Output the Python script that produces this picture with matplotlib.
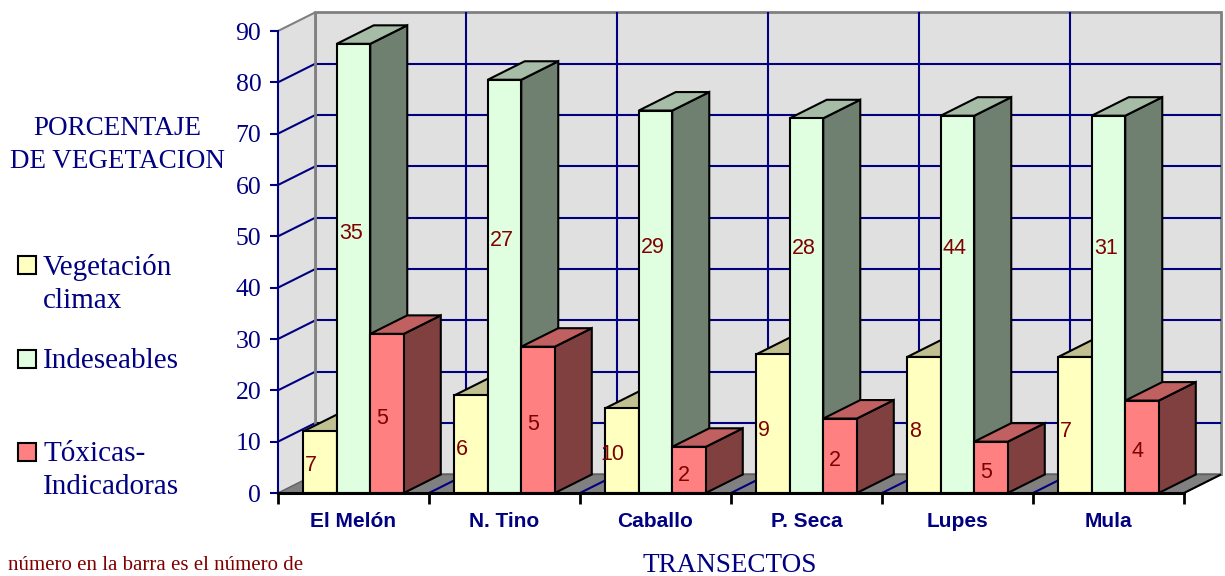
import matplotlib
matplotlib.use("Agg")
from matplotlib import pyplot as plt
from matplotlib.patches import Polygon, Rectangle
import numpy as np

# data
transectos = ['El Melón', 'N. Tino', 'Caballo', 'P. Seca', 'Lupes', 'Mula']
series_names = ['Vegetación\nclimax', 'Indeseables', 'Tóxicas-\nIndicadoras']

climax_pct = [12, 19, 16.5, 27, 26.5, 26.5]
indeseables_pct = [87.5, 80.5, 74.5, 73, 73.5, 73.5]
toxicas_pct = [31, 28.5, 9, 14.5, 10, 18]

climax_n = [7, 6, 10, 9, 8, 7]
indeseables_n = [35, 27, 29, 28, 44, 31]
toxicas_n = [5, 5, 2, 2, 5, 4]

y_ticks = list(range(0, 91, 10))

# colours: front, top, side
front_cols = ['#FFFFC0', '#E0FFE0', '#FF8080']
top_cols = ['#C0C090', '#A6BCA6', '#C06060']
side_cols = ['#909070', '#708070', '#804040']
NAVY = '#000080'
LABEL_RED = '#800000'
SERIF = 'Liberation Serif'
SANS = 'Liberation Sans'

W, H = 1225, 576
fig = plt.figure(figsize=(W / 100, H / 100), dpi=100)
ax = fig.add_axes([278 / W, (H - 493) / H, (1184 - 278) / W, (493 - 31) / H])
ax.set_xlim(0, len(transectos))
ax.set_ylim(0, 90)
ax.patch.set_visible(False)

# 3d depth offset in data units
DX = 37 / 151
DY = 18.5 / 5.133
n = len(transectos)
top = 90


def poly(pts, fc, ec='none', lw=0, z=1):
    p = Polygon(pts, closed=True, facecolor=fc, edgecolor=ec, linewidth=lw,
                zorder=z, clip_on=False, joinstyle='miter')
    ax.add_patch(p)


def line(xs, ys, c=NAVY, lw=1.5, z=1.5):
    ax.plot(xs, ys, color=c, lw=lw, zorder=z, clip_on=False, solid_capstyle='butt')


# walls and floor
poly([(DX, DY), (n + DX, DY), (n + DX, top + DY), (DX, top + DY)], '#E0E0E0', '#808080', 2)
poly([(0, 0), (DX, DY), (DX, top + DY), (0, top)], '#E0E0E0')
poly([(0, 0), (n, 0), (n + DX, DY), (DX, DY)], '#808080', '#606060', 1)

# gridlines
for v in y_ticks[1:-1]:
    line([DX, n + DX], [v + DY, v + DY])
    line([0, DX], [v, v + DY])
for i in range(1, n):
    line([i + DX, i + DX], [DY, top + DY])
    line([i, i + DX], [0, DY])
line([0, DX], [top, top + DY], c='#808080', lw=1.5)
line([DX, DX], [DY, top + DY], c='#808080', lw=2)
line([n, n + DX], [0, DY], c='black', lw=1.5, z=3)

# bars
series = [climax_pct, indeseables_pct, toxicas_pct]
counts = [climax_n, indeseables_n, toxicas_n]
bw = 0.222
gap = (1 - 3 * bw) / 2
lab_dx = [0.05, 0.093, 0.08]
for i in range(n):
    for k in range(3):
        v = series[k][i]
        x0 = i + gap + k * bw
        x1 = x0 + bw
        z = 2 + i * 0.1 + k * 0.01
        poly([(x1, 0), (x1 + DX, DY), (x1 + DX, v + DY), (x1, v)], side_cols[k], 'black', 1.5, z)
        poly([(x0, v), (x1, v), (x1 + DX, v + DY), (x0 + DX, v + DY)], top_cols[k], 'black', 1.5, z)
        poly([(x0, 0), (x1, 0), (x1, v), (x0, v)], front_cols[k], 'black', 1.5, z)
        if k == 0:
            ly = 0.45 * v
        elif k == 1:
            ly = 0.2 * v + 33
        else:
            ly = 0.5 * v - 1
        ax.text(x0 + lab_dx[k], ly, str(counts[k][i]), ha='center', va='center',
                color=LABEL_RED, fontsize=15.5, family=SANS, zorder=z + 0.005)

# axes
for s in ['top', 'right']:
    ax.spines[s].set_visible(False)
ax.spines['left'].set_color(NAVY)
ax.spines['left'].set_linewidth(1.5)
ax.spines['bottom'].set_color('black')
ax.spines['bottom'].set_linewidth(2.2)
ax.spines['bottom'].set_zorder(2.9)

ax.set_yticks(y_ticks)
ax.set_yticklabels([str(t) for t in y_ticks])
ax.tick_params(axis='y', colors=NAVY, length=6, width=1.5, pad=6, labelsize=18.5)
for lab in ax.get_yticklabels():
    lab.set_family(SERIF)

ax.set_xticks(np.arange(n + 1))
ax.set_xticklabels([])
ax.set_xticks(np.arange(n) + 0.5, minor=True)
ax.set_xticklabels(transectos, minor=True)
ax.tick_params(axis='x', which='major', colors='black', length=8, width=2, direction='out')
ax.tick_params(axis='x', which='minor', length=0, pad=14, labelsize=15, labelcolor=NAVY)
for lab in ax.get_xticklabels(minor=True):
    lab.set_family(SANS)
    lab.set_fontweight('bold')

# titles
fig.text(117.5 / W, 1 - 145 / H, 'PORCENTAJE\nDE VEGETACION', ha='center', va='center',
         color=NAVY, fontsize=19.5, family=SERIF, linespacing=1.42)
fig.text(730 / W, 1 - 553 / H, 'TRANSECTOS', ha='center', va='top',
         color=NAVY, fontsize=19.5, family=SERIF)
fig.text(8 / W, 1 - 556 / H, 'número en la barra es el número de', ha='left', va='top',
         color=LABEL_RED, fontsize=15, family=SERIF)

# legend
leg_y = [265, 359, 452]
for k in range(3):
    yc = leg_y[k]
    fig.patches.append(Rectangle((18 / W, 1 - (yc + 9) / H), 18 / W, 18 / H,
                                 transform=fig.transFigure, facecolor=front_cols[k],
                                 edgecolor='black', linewidth=1.5))
    fig.text(43 / W, 1 - (yc - 11) / H, series_names[k], ha='left', va='top',
             color=NAVY, fontsize=21, family=SERIF, linespacing=1.36)

fig.savefig('out.png', dpi=100)
